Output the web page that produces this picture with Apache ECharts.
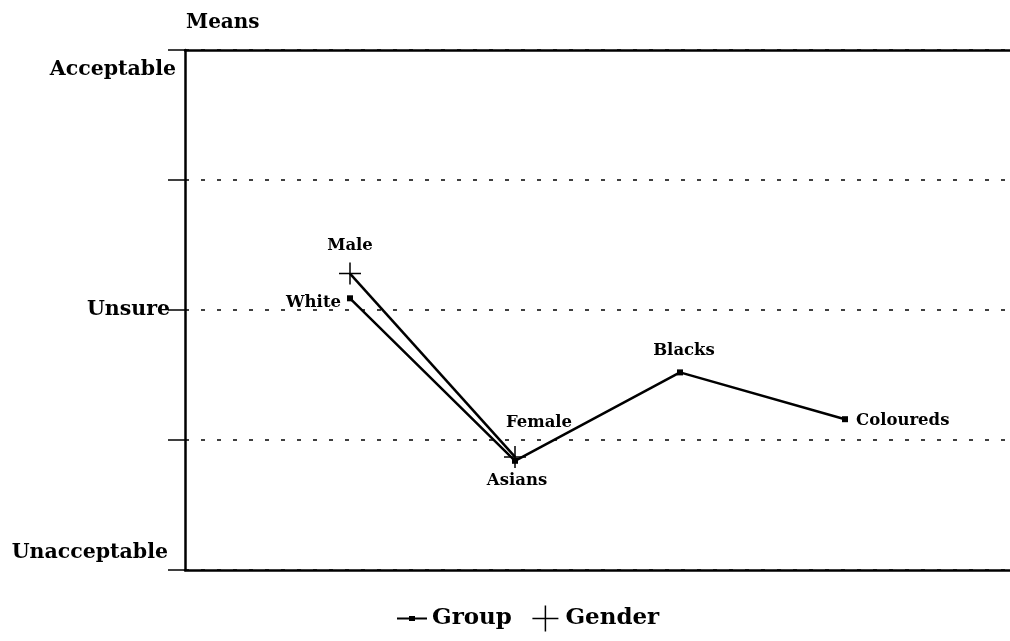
<!DOCTYPE html>
<html>
<head>
<meta charset="utf-8">
<script src="https://cdn.jsdelivr.net/npm/echarts@6/dist/echarts.min.js"></script>
<style>html,body{margin:0;padding:0;background:#fff}#c{width:1010px;height:641px}</style>
</head>
<body>
<div id="c"></div>
<script>
// Data
const groupNames = ['White', 'Asians', 'Blacks', 'Coloureds'];
const groupX = [1, 2, 3, 4];
const groupValues = [3.09, 1.84, 2.52, 2.16];
const genderNames = ['Male', 'Female'];
const genderX = [1, 2];
const genderValues = [3.28, 1.87];
const yTickLabels = {1: 'Unacceptable', 3: 'Unsure', 5: 'Acceptable'};

const FONT = 'DejaVu Serif';
const groupLabelPos = [
  {position: 'left', distance: 6, offset: [0, 4]},
  {position: 'bottom', distance: 8, offset: [2, 0]},
  {position: 'top', distance: 10, offset: [4, 0]},
  {position: 'right', distance: 8, offset: [0, 2]}
];
const genderLabelPos = [{position: 'top', distance: 6}, {position: 'top', offset: [24, -7]}];

const plus = 'path://M0,10 L20,10 M10,0 L10,20';
const groupIcon = 'path://M0,9 L30,9 L30,11 L0,11 Z M12,7.5 L18,7.5 L18,12.5 L12,12.5 Z';

const chart = echarts.init(document.getElementById('c'));
chart.setOption({
  animation: false,
  backgroundColor: '#fff',
  title: {
    text: 'Means', left: 181, top: 8,
    textStyle: {fontFamily: FONT, fontSize: 20, fontWeight: 'bold', color: '#000'}
  },
  legend: {
    bottom: 2, left: 392, itemGap: 18, itemWidth: 30, itemHeight: 26,
    textStyle: {fontFamily: FONT, fontSize: 23, fontWeight: 'bold', color: '#000', padding: [0, 0, 0, 0]},
    data: [
      {name: 'Group', icon: groupIcon, itemStyle: {color: '#000', borderWidth: 0}},
      {name: 'Gender', icon: plus, itemStyle: {color: 'none', borderColor: '#000', borderWidth: 1.5}}
    ]
  },
  grid: {left: 185, right: -5, top: 50, bottom: 71},
  xAxis: [{
    type: 'value', min: 0, max: 5, position: 'bottom',
    axisLine: {show: true, lineStyle: {color: '#000', width: 2.5}},
    axisTick: {show: false}, axisLabel: {show: false}, splitLine: {show: false}
  }, {
    type: 'value', min: 0, max: 5, position: 'top',
    axisLine: {show: true, lineStyle: {color: '#000', width: 2.5}},
    axisTick: {show: false}, axisLabel: {show: false}, splitLine: {show: false}
  }],
  yAxis: {
    type: 'value', min: 1, max: 5, interval: 1,
    axisLine: {show: true, lineStyle: {color: '#000', width: 2.5}},
    axisTick: {show: true, length: 17, lineStyle: {color: '#000', width: 1.5}},
    splitLine: {show: true, lineStyle: {color: '#000', type: [4, 12], width: 1.5}},
    axisLabel: {
      margin: 8,
      formatter: v => {
        const t = yTickLabels[v];
        if (!t) return '';
        if (v === 5) return '{hi|' + t + '}';
        if (v === 1) return '{lo|' + t + '}';
        return '{m|' + t + '}';
      },
      rich: {
        hi: {fontFamily: FONT, fontSize: 20.5, fontWeight: 'bold', color: '#000', padding: [40, 1, 0, 0]},
        lo: {fontFamily: FONT, fontSize: 20.5, fontWeight: 'bold', color: '#000', padding: [0, 9, 34, 0]},
        m: {fontFamily: FONT, fontSize: 20.5, fontWeight: 'bold', color: '#000', padding: [0, 7, 0, 0]}
      }
    }
  },
  series: [{
    name: 'Group', type: 'line',
    symbol: 'rect', symbolSize: 6,
    itemStyle: {color: '#000'},
    lineStyle: {color: '#000', width: 2.5},
    label: {show: true, fontFamily: FONT, fontSize: 16.5, fontWeight: 'bold', color: '#000', formatter: p => groupNames[p.dataIndex]},
    data: groupX.map((x, i) => ({value: [x, groupValues[i]], label: groupLabelPos[i]}))
  }, {
    name: 'Gender', type: 'line',
    symbol: plus, symbolSize: 22,
    itemStyle: {color: 'none', borderColor: '#000', borderWidth: 1.5},
    lineStyle: {color: '#000', width: 2.5},
    label: {show: true, fontFamily: FONT, fontSize: 16.5, fontWeight: 'bold', color: '#000', formatter: p => genderNames[p.dataIndex]},
    data: genderX.map((x, i) => ({value: [x, genderValues[i]], label: genderLabelPos[i]}))
  }]
});
</script>
</body>
</html>
